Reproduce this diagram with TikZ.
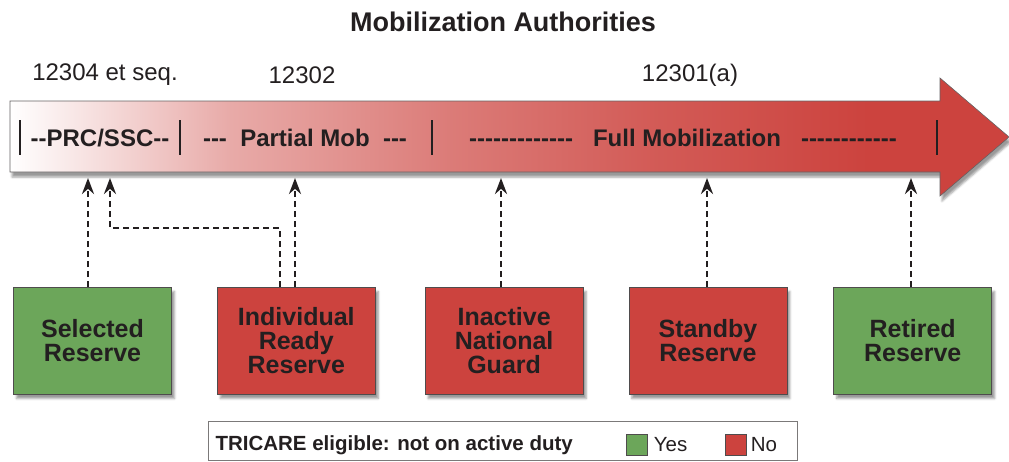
\documentclass[tikz,border=0pt]{standalone}
\usepackage{fontspec}
\setmainfont{Liberation Sans}[Ligatures=TeXOff]
\usetikzlibrary{arrows.meta,positioning,shadows.blur}
\definecolor{resgreen}{RGB}{108,166,90}
\definecolor{resred}{RGB}{204,67,62}
\definecolor{ink}{RGB}{35,31,32}
\pgfdeclarehorizontalshading{mobshade}{100bp}{color(0bp)=(white); color(25bp)=(white); color(28bp)=(resred!12);
	color(36bp)=(resred!45); color(47bp)=(resred!70); color(57bp)=(resred!87); color(68bp)=(resred); color(100bp)=(resred)}

\begin{document}
\begin{tikzpicture}[x=1pt,y=-1pt,
	resbox/.style={draw=ink!80,line width=0.8pt,minimum width=158pt,minimum height=107pt,align=center,
		font=\fontsize{25}{24}\selectfont\bfseries,text=ink,blur shadow={shadow xshift=3pt,shadow yshift=-4pt}},
	link/.style={ink,line width=2.6pt,dash pattern=on 6pt off 4pt,-{Stealth[length=16pt,width=12pt]}},
	bartext/.style={font=\fontsize{24}{26}\selectfont\bfseries,text=ink},
	authtext/.style={font=\fontsize{24}{26}\selectfont,text=ink},
	keybox/.style={draw=ink!80,line width=0.6pt,minimum size=21pt,inner sep=0pt}]
	\useasboundingbox (0,0) rectangle (1009,461);
	\node[font=\fontsize{27}{30}\selectfont\bfseries,text=ink] (title) at (503,22) {Mobilization Authorities};
	% authorities
	\node[authtext] (a1) at (105,75) {12304 et seq.};
	\node[authtext] (a2) at (302,75) {12302};
	\node[authtext] (a3) at (690,75) {12301(a)};
	% the big arrow
	\path[draw=ink!70,line width=0.6pt,shading=mobshade,blur shadow={shadow xshift=2pt,shadow yshift=-5pt}]
		(10,101) -- (940,101) -- (940,78) -- (1009,137) -- (940,196) -- (940,172) -- (10,172) -- cycle;
	\foreach \x in {20,180,432,937}
		\draw[ink,line width=2pt] (\x,120) -- (\x,155);
	\node[bartext] (prc) at (100,138) {--PRC/SSC--};
	\node[bartext] (pm) at (305,138) {---~~Partial Mob~~---};
	\node[bartext] (fm) at (683,138) {-------------~~~Full Mobilization~~~------------};
	\coordinate (t1) at (88,178);
	\coordinate (t2) at (110,178);
	\coordinate (t3) at (295,178);
	\coordinate (t4) at (501,178);
	\coordinate (t5) at (707,178);
	\coordinate (t6) at (911,178);
	\coordinate (bend) at (280,228);
	% reserve categories
	\node[resbox,fill=resgreen] (sel) at (92.5,341) {Selected\\Reserve};
	\node[resbox,fill=resred,right=45pt of sel] (irr) {Individual\\Ready\\Reserve};
	\node[resbox,fill=resred,right=49pt of irr] (ing) {Inactive\\National\\Guard};
	\node[resbox,fill=resred,right=45pt of ing] (sby) {Standby\\Reserve};
	\node[resbox,fill=resgreen,right=46pt of sby] (ret) {Retired\\Reserve};
	\draw[link] (sel.north -| t1) -- (t1);
	\draw[link] (irr.north -| bend) -- (bend) -| (t2);
	\draw[link] (irr.north -| t3) -- (t3);
	\draw[link] (ing.north -| t4) -- (t4);
	\draw[link] (sby.north -| t5) -- (t5);
	\draw[link] (ret.north -| t6) -- (t6);
	% key
	\draw[draw=ink!60,line width=0.8pt] (208,421) rectangle (797,460);
	\node[anchor=west,font=\fontsize{20.5}{22}\selectfont\bfseries,text=ink] (keytxt) at (212,445) {TRICARE eligible: not on active duty};
	\node[keybox,fill=resgreen] (kyes) at (636.5,445) {};
	\node[anchor=west,font=\fontsize{20.5}{22}\selectfont,text=ink,right=3pt of kyes] (yes) {Yes};
	\node[keybox,fill=resred] (kno) at (735.5,445) {};
	\node[anchor=west,font=\fontsize{20.5}{22}\selectfont,text=ink,right=1pt of kno] (no) {No};
\end{tikzpicture}
\end{document}
